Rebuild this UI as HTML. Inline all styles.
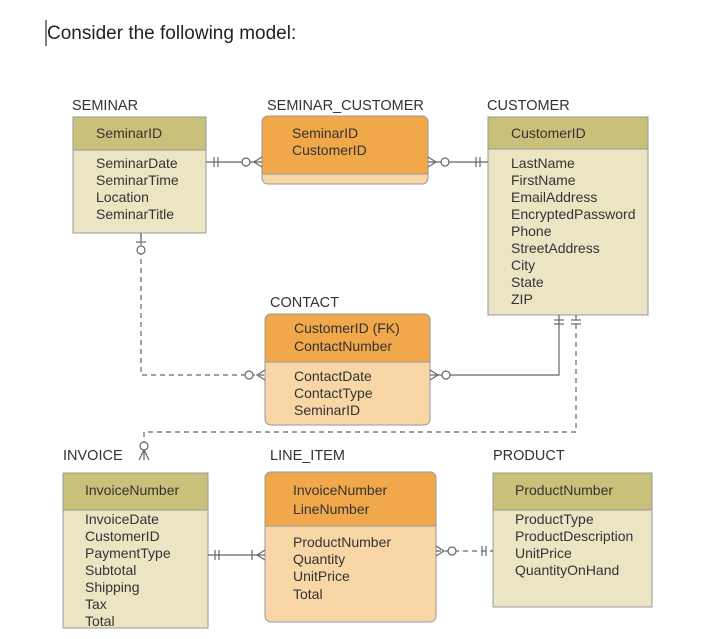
<!DOCTYPE html>
<html><head><meta charset="utf-8"><style>
body{margin:0;background:#fff;width:725px;height:634px;overflow:hidden}
svg text{font-family:"Liberation Sans",Arial,sans-serif;fill:#333}
</style></head><body>
<svg width="725" height="634" viewBox="0 0 725 634" xmlns="http://www.w3.org/2000/svg">
<line x1="46" y1="20" x2="46" y2="46" stroke="#000" stroke-width="1"/>
<text x="47" y="39" font-size="19" style="font-family:'Liberation Sans','Noto Sans CJK JP',sans-serif;fill:#222">Consider the following model:</text>

<g font-size="14">
<!-- Titles -->
<text x="72" y="110" font-size="14.5">SEMINAR</text>
<text x="267" y="110" font-size="14.5">SEMINAR_CUSTOMER</text>
<text x="487" y="110" font-size="14.5">CUSTOMER</text>
<text x="270" y="307" font-size="14.5">CONTACT</text>
<text x="63" y="460" font-size="14.5">INVOICE</text>
<text x="270" y="460" font-size="14.5">LINE_ITEM</text>
<text x="493" y="460" font-size="14.5">PRODUCT</text>

<!-- SEMINAR -->
<rect x="73" y="117" width="133" height="116" fill="#ebe5c3" stroke="#999"/>
<rect x="73" y="117" width="133" height="33" fill="#c9c07a" stroke="#999"/>
<text x="96" y="138">SeminarID</text>
<text x="96" y="168">SeminarDate</text><text x="96" y="185">SeminarTime</text><text x="96" y="202">Location</text><text x="96" y="219">SeminarTitle</text>

<!-- SEMINAR_CUSTOMER -->
<rect x="262" y="116" width="166" height="68" rx="6" fill="#f8d6a6" stroke="#999"/>
<path d="M262 174 V122 a6 6 0 0 1 6 -6 H422 a6 6 0 0 1 6 6 V174 Z" fill="#f0a84a" stroke="#999"/>
<text x="292" y="138">SeminarID</text><text x="292" y="155">CustomerID</text>

<!-- CUSTOMER -->
<rect x="488" y="117" width="160" height="198" fill="#ebe5c3" stroke="#999"/>
<rect x="488" y="117" width="160" height="32" fill="#c9c07a" stroke="#999"/>
<text x="511" y="138">CustomerID</text>
<text x="511" y="168">LastName</text><text x="511" y="185">FirstName</text><text x="511" y="202">EmailAddress</text><text x="511" y="219">EncryptedPassword</text><text x="511" y="236">Phone</text><text x="511" y="253">StreetAddress</text><text x="511" y="270">City</text><text x="511" y="287">State</text><text x="511" y="304">ZIP</text>

<!-- CONTACT -->
<rect x="265" y="314" width="165" height="111" rx="6" fill="#f8d6a6" stroke="#999"/>
<path d="M265 362 V320 a6 6 0 0 1 6 -6 H424 a6 6 0 0 1 6 6 V362 Z" fill="#f0a84a" stroke="#999"/>
<text x="294" y="333">CustomerID (FK)</text><text x="294" y="351">ContactNumber</text>
<text x="294" y="381">ContactDate</text><text x="294" y="398">ContactType</text><text x="294" y="415">SeminarID</text>

<!-- INVOICE -->
<rect x="63" y="473" width="145" height="155" fill="#ebe5c3" stroke="#999"/>
<rect x="63" y="473" width="145" height="37" fill="#c9c07a" stroke="#999"/>
<text x="85" y="495">InvoiceNumber</text>
<text x="85" y="524">InvoiceDate</text><text x="85" y="541">CustomerID</text><text x="85" y="558">PaymentType</text><text x="85" y="575">Subtotal</text><text x="85" y="592">Shipping</text><text x="85" y="609">Tax</text><text x="85" y="626">Total</text>

<!-- LINE_ITEM -->
<rect x="265" y="472" width="171" height="150" rx="6" fill="#f8d6a6" stroke="#999"/>
<path d="M265 526 V478 a6 6 0 0 1 6 -6 H430 a6 6 0 0 1 6 6 V526 Z" fill="#f0a84a" stroke="#999"/>
<text x="293" y="495">InvoiceNumber</text><text x="293" y="514">LineNumber</text>
<text x="293" y="547">ProductNumber</text><text x="293" y="564">Quantity</text><text x="293" y="581">UnitPrice</text><text x="293" y="599">Total</text>

<!-- PRODUCT -->
<rect x="493" y="473" width="159" height="134" fill="#ebe5c3" stroke="#999"/>
<rect x="493" y="473" width="159" height="37" fill="#c9c07a" stroke="#999"/>
<text x="515" y="495">ProductNumber</text>
<text x="515" y="524">ProductType</text><text x="515" y="541">ProductDescription</text><text x="515" y="558">UnitPrice</text><text x="515" y="575">QuantityOnHand</text>
</g>

<g stroke="#666" stroke-width="1.2" fill="#fff">
<!-- SEMINAR - SC -->
<line x1="206" y1="162" x2="262" y2="162"/>
<line x1="214" y1="157" x2="214" y2="167"/><line x1="218" y1="157" x2="218" y2="167"/>
<circle cx="246" cy="162" r="4"/>
<path d="M262 157 L254 162 L262 167" fill="none"/>
<!-- SC - CUSTOMER -->
<line x1="428" y1="162" x2="488" y2="162"/>
<path d="M428 157 L436 162 L428 167" fill="none"/>
<circle cx="445" cy="162" r="4"/>
<line x1="476" y1="157" x2="476" y2="167"/><line x1="480" y1="157" x2="480" y2="167"/>
<!-- SEMINAR - CONTACT dashed -->
<path d="M141 233 V240 M141 250 V375 H265" fill="none" stroke-dasharray="5,4"/>
<line x1="141" y1="233" x2="141" y2="245"/>
<line x1="136" y1="242" x2="146" y2="242"/>
<circle cx="141" cy="250" r="4"/>
<circle cx="249" cy="375" r="4"/>
<path d="M265 370 L257 375 L265 380" fill="none"/>
<!-- CUSTOMER - CONTACT -->
<path d="M559 315 V375 H430" fill="none"/>
<line x1="554" y1="320" x2="564" y2="320"/><line x1="554" y1="324" x2="564" y2="324"/>
<path d="M430 370 L438 375 L430 380" fill="none"/>
<circle cx="446" cy="375" r="4"/>
<!-- CUSTOMER - INVOICE dashed -->
<path d="M576 315 V432 H144 V442" fill="none" stroke-dasharray="5,4"/>
<line x1="571" y1="320" x2="581" y2="320"/><line x1="571" y1="324" x2="581" y2="324"/>
<circle cx="144" cy="446" r="4"/>
<path d="M139 460 L144 450 L149 460 M144 450 V460" fill="none"/>
<!-- INVOICE - LINE_ITEM -->
<line x1="208" y1="555" x2="265" y2="555"/>
<line x1="215" y1="550" x2="215" y2="560"/><line x1="219" y1="550" x2="219" y2="560"/>
<line x1="252" y1="550" x2="252" y2="560"/>
<path d="M265 550 L257 555 L265 560" fill="none"/>
<!-- LINE_ITEM - PRODUCT -->
<line x1="436" y1="551" x2="493" y2="551" stroke-dasharray="5,4"/>
<path d="M436 546 L444 551 L436 556" fill="none"/>
<circle cx="452" cy="551" r="4"/>
<line x1="482" y1="546" x2="482" y2="556"/><line x1="486" y1="546" x2="486" y2="556"/>
</g>
</svg>
</body></html>
